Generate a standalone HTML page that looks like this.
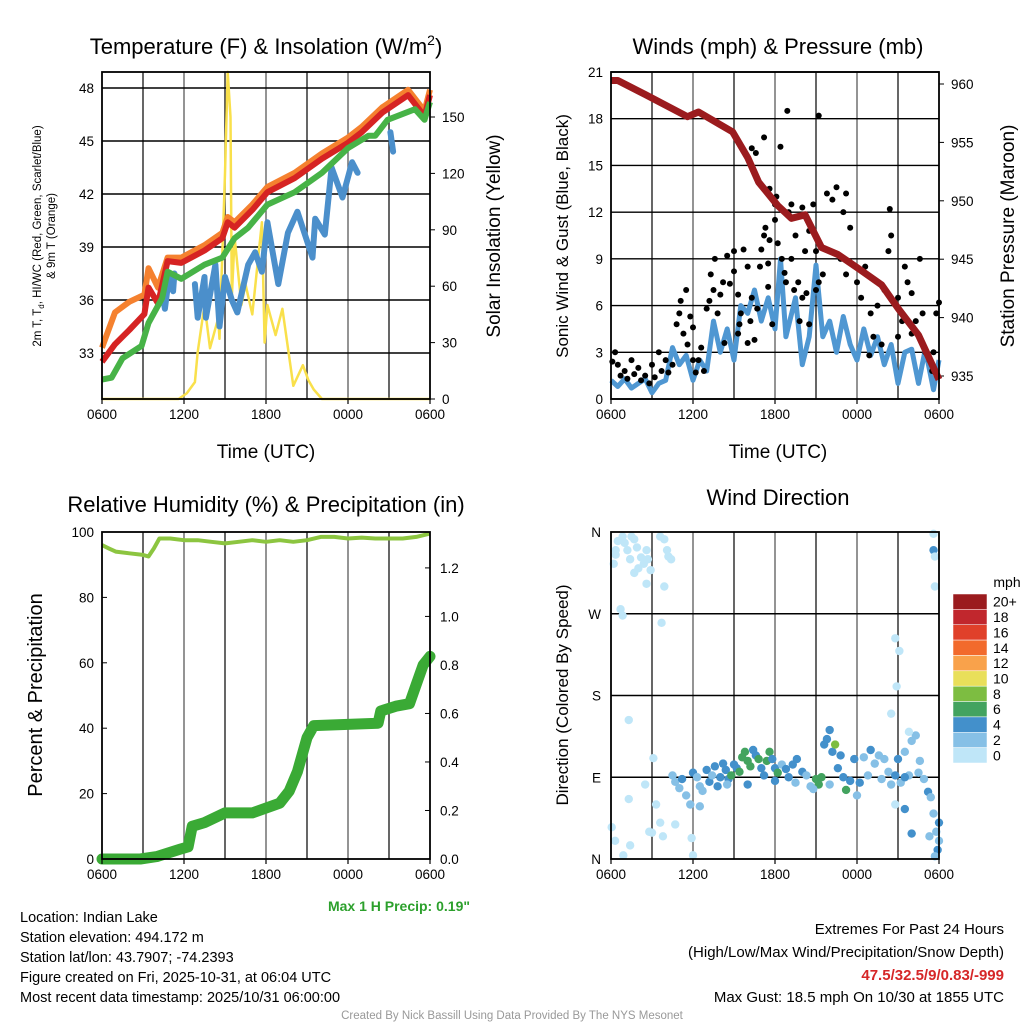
<!DOCTYPE html>
<html><head><meta charset="utf-8">
<style>
body{margin:0;background:#fff;}
svg{display:block;font-family:"Liberation Sans",sans-serif;}
</style></head>
<body>
<svg id="c" width="1024" height="1024" viewBox="0 0 1024 1024" xmlns="http://www.w3.org/2000/svg">
<g id="static">
<text x="266" y="54" font-size="22" text-anchor="middle">Temperature (F) &amp; Insolation (W/m<tspan font-size="14" dy="-9">2</tspan><tspan dy="9">)</tspan></text>
<text x="778" y="54" font-size="22" text-anchor="middle">Winds (mph) &amp; Pressure (mb)</text>
<text x="266" y="512" font-size="22" text-anchor="middle">Relative Humidity (%) &amp; Precipitation (in)</text>
<text x="778" y="505" font-size="22" text-anchor="middle">Wind Direction</text>
<text x="266" y="458" font-size="19" text-anchor="middle">Time (UTC)</text>
<text x="778" y="458" font-size="19" text-anchor="middle">Time (UTC)</text>
<text transform="translate(41,236) rotate(-90)" font-size="11.5" text-anchor="middle">2m T, T<tspan font-size="8" dy="3">d</tspan><tspan dy="-3">, HI/WC (Red, Green, Scarlet/Blue)</tspan></text>
<text transform="translate(55,236) rotate(-90)" font-size="11.5" text-anchor="middle">&amp; 9m T (Orange)</text>
<text transform="translate(500,236) rotate(-90)" font-size="19" text-anchor="middle">Solar Insolation (Yellow)</text>
<text transform="translate(568,236) rotate(-90)" font-size="17" text-anchor="middle">Sonic Wind &amp; Gust (Blue, Black)</text>
<text transform="translate(1014,236) rotate(-90)" font-size="19" text-anchor="middle">Station Pressure (Maroon)</text>
<text transform="translate(42,695) rotate(-90)" font-size="20" text-anchor="middle">Percent &amp; Precipitation</text>
<text transform="translate(568,695) rotate(-90)" font-size="17" text-anchor="middle">Direction (Colored By Speed)</text>
<text x="470" y="911" font-size="14" font-weight="bold" fill="#2ca02c" text-anchor="end">Max 1 H Precip: 0.19"</text>
<g font-size="14.5">
<text x="20" y="922">Location: Indian Lake</text>
<text x="20" y="942">Station elevation: 494.172 m</text>
<text x="20" y="962">Station lat/lon: 43.7907; -74.2393</text>
<text x="20" y="982">Figure created on Fri, 2025-10-31, at 06:04 UTC</text>
<text x="20" y="1002">Most recent data timestamp: 2025/10/31 06:00:00</text>
</g>
<g font-size="15" text-anchor="end">
<text x="1004" y="934">Extremes For Past 24 Hours</text>
<text x="1004" y="957">(High/Low/Max Wind/Precipitation/Snow Depth)</text>
<text x="1004" y="980" font-weight="bold" fill="#d62728">47.5/32.5/9/0.83/-999</text>
<text x="1004" y="1002">Max Gust: 18.5 mph On 10/30 at 1855 UTC</text>
</g>
<text x="512" y="1019" font-size="11.5" fill="#999" text-anchor="middle">Created By Nick Bassill Using Data Provided By The NYS Mesonet</text>
<text x="1007" y="587" font-size="14" text-anchor="middle">mph</text>
</g>
</svg>
<script>
// ---------- data ----------
var hourTicks = ["0600","1200","1800","0000","0600"];
var tempHours = [0,0.95,2,3.1,3.4,4.1,4.8,5.8,7.5,8.8,9.2,9.7,11,12.1,14.1,16.1,18,19,20.5,22.4,23.6,24];
var tempRed   = [32.5,33.5,34.3,35.2,36.7,35.8,38.2,38.1,38.8,39.5,40.4,40.1,41.1,42.1,42.9,44,44.9,45.5,46.6,47.6,46.4,47.6];
var tempOrange= [33.3,35.3,35.9,36.3,37.8,36.7,38.4,38.4,39.1,39.8,40.7,40.4,41.4,42.4,43.2,44.3,45.2,45.8,46.9,47.9,46.7,47.9];
var greenHours= [0,0.7,1.5,2.9,3.4,4.4,4.8,5.8,7.5,8.8,9.7,10.7,12.1,14.1,16.1,18,19.5,20,20.9,22.9,23.6,24];
var tempGreen = [31.5,31.6,32.7,33.4,34.7,36.1,37.6,37.2,38,38.4,39.5,40.1,41.4,42.1,43.2,44.6,45.3,45.3,46.2,46.8,46.2,47.2];
var hiHours = [4.4,4.6,4.9,5.2,5.3,null,6.8,7,7.5,7.6,8.3,8.6,9,9.5,9.9,10.7,11.2,11.7,12.1,12.9,13.6,14.3,15.4,15.6,16.3,16.8,17.6,18.3,18.7,null,21.1,21.3];
var hiVals  = [36.5,35.5,37.3,36.5,37.5,null,36.9,35,37.3,35,38,34.5,37.3,36,35.3,38,38.7,37.6,40.4,36.9,39.8,41,38.4,40.6,39.7,43.5,41.8,43.8,43.2,null,45.5,44.4];
var solarHours = [0,5.6,6.2,6.8,7,7.5,7.9,8.5,8.6,9,9.2,9.4,9.5,9.7,10.2,10.5,11,11.7,11.9,12.1,12.7,13.2,14,14.7,15.1,15.5,16.1,24];
var solarVals  = [0,0,3,9,25,50,27,43,32,120,174,150,54,86,50,61,45,94,30,50,34,48,7,18,10,5,0,0];
var windHours = [0,0.5,1,1.5,2,2.5,3,3.5,4,4.5,5,5.5,6,6.5,7,7.5,8,8.5,9,9.5,10,10.5,11,11.5,12,12.4,12.8,13.5,14,14.5,15,15.5,16,16.5,17,17.5,18,18.5,19,19.5,20,20.5,21,21.5,22,22.5,23,23.6,24];
var windVals  = [1.2,0.8,1.3,0.7,1,1.3,0.4,1,1.2,3.3,2.2,2.8,1.2,2.5,1.8,5,3,4.5,2.5,6,5.5,7,5,6.5,4.5,9,4,6.5,2.2,4,8.6,4,5,3,5.3,3.5,2.5,4.5,2.8,4,2.2,3.5,1,3,3.2,1,3.2,0.6,2.5];
var presHours = [0,0.5,2.5,5.6,6.4,8.9,10,10.8,12.2,13.2,14.2,15.4,16.6,18.1,19.8,21,22.5,24];
var presVals  = [960.3,960.3,959.1,957.2,957.6,955.9,953.7,951.6,949.6,948.5,948.8,946,945.4,944.2,942.8,940.8,938.5,934.7];
var gustHours = [0.1,0.3,0.5,0.7,1,1.2,1.5,1.7,2,2.2,2.5,2.8,3,3.2,3.5,3.7,4,4.2,4.5,4.8,5,5.1,5.3,5.5,5.6,5.8,6,6,6.2,6.4,6.6,6.8,7,7.2,7.3,7.5,7.6,7.8,8,8.2,8.3,8.5,8.7,9,9,9.3,9.5,9.7,10,10,10.3,10.5,10.7,11,11.2,11.3,11.5,11.6,12,12,12.2,12.5,12.7,13,13.2,13.5,13.7,14,14,14.2,14.5,15,10.3,10.6,11.2,12.4,12.9,15.2,11.6,12.1,13.2,14.8,15.8,16.5,17.2,17,16.2,17.5,16,15.5,16.8,17.2,18,18.3,18.6,19,19.2,19.5,20,20.3,20.4,20.5,21,21.3,21.5,21.7,22,22.3,22.6,22.8,23,23.3,23.6,23.8,24,21,19.8,18.9,22,23.5,14.5,13.4,14.3,15.2,15,13.8,12.8,11.5,11.8,10.9,9.3,9.4,10.2];
var gustVals  = [2.4,3,2.2,1.5,1.8,1.3,2.5,1.6,2,1.2,1.5,1,2.2,1.4,3,1.8,2.5,1.7,2.2,4.8,5.5,6.3,4.2,7,3.5,5.3,2.5,4.6,1.7,2.5,3.3,1.8,5.8,6.3,8,7,9,5.5,6.7,7.5,3.6,9.2,7.4,8.2,9.5,6.7,5.5,9.6,8.5,3.6,6.5,3.8,5.8,9.6,10.5,11,8.7,10.2,11.5,12.5,10,9,8.1,12,9,10.5,7.5,12.3,6.5,9.5,10.8,7,16.1,15.8,16.8,16.2,18.5,18.2,13.5,13,12.5,12.5,13.2,13.6,13.2,12,12.8,11,9.5,8,9,8,7.5,6.5,8.5,5.5,4,6,7,9.5,12.2,10.5,6.5,5,8.5,7.5,6.8,5,9,5.5,3,2.5,3,5.5,6.2,4,3.5,2.8,4.2,1.8,4.8,7,6.8,7.5,9.5,5,7.5,7.2,4.8,8.5,4.2,4.8,5];
var rhHours = [0,0.5,1,2,3,3.4,3.8,4.2,5,6,7,8,9,10,11,12,13,14,15,16,17,18,19,20,21,22,23,24];
var rhVals  = [96,95,94,93.5,93,92.5,95,98,98,97.5,97.5,97,96.5,97,97.5,97,97.5,97,97.5,98.5,98.5,98,98.3,98,98,98,98.5,99.5];
var precipHours = [0,2.8,4,5.7,6.3,6.6,7.5,9,11,13,13.7,14.3,15,15.5,20.2,20.4,21.5,22.5,23,23.5,24];
var precipVals  = [0,0,0.01,0.04,0.05,0.135,0.15,0.19,0.19,0.23,0.28,0.36,0.5,0.55,0.56,0.61,0.63,0.64,0.72,0.8,0.835];
var dirHours = [0.34,0.5,0.85,1,1.2,1.5,1.7,1.9,2.2,2.4,2.6,2.7,2.9,2,1.7,1.4,3.6,3.9,4.1,4.2,4.4,0.2,0.34,3.9,2.6,0.7,0.85,3.7,0.05,1.4,1.3,2.5,3,3.3,3.6,3.8,4.7,5.9,6,3.1,1.3,0.9,0.3,2.8,4.5,4.7,5,5.2,5.5,5.8,6,6.3,6.5,6.7,7,7.2,7.4,7.6,7.8,8,8.2,8.4,8.6,8.8,9,9.2,9.4,9.6,9.8,10,10.2,10.4,10.6,10.8,11,11.2,11.4,11.6,11.8,12,12.2,12.5,12.8,13,13.3,13.6,14,14.3,14.6,15,15.2,15.4,15.6,15.8,16,16.2,16.4,16.6,16.8,17,17.2,17.5,17.8,18.2,18.5,18.8,19,19.3,19.6,20,20.3,20.5,20.8,21,21.2,21.5,21.8,22,22.3,22.6,22.9,23.2,23.4,23.6,23.8,24,23.9,23.7,24,23.3,21.5,19.8,18,16,14.8,13.5,12,10,8.5,6.5,20.5,20.9,21.8,22.5,20.8,21.5,22,23.6,23.6,23.7,23.7,20.8,21.1];
var dirVals  = [335,350,355,348,340,355,352,343,332,325,340,330,318,320,315,330,355,352,340,333,330,325,340,300,303,275,268,260,35,15,66,82,29,60,40,25,38,23,4,111,153,4,20,30,92,85,78,88,70,60,95,90,80,75,98,85,92,102,80,90,105,98,88,92,104,100,96,112,118,108,102,120,114,110,100,92,108,118,110,100,95,104,99,90,104,110,96,92,80,88,82,90,126,132,142,118,126,100,114,90,76,86,110,84,112,92,120,105,114,110,96,82,92,110,84,118,92,130,136,108,88,74,68,50,30,20,10,3,40,25,90,88,70,82,77,84,86,82,82,58,160,190,140,95,60,55,28,358,340,333,300,243,229];
var dirSpeeds= [1,1,1,1,1,1,1,1,1,1,1,1,1,1,1,1,1,1,1,1,1,1,1,1,1,1,1,1,1,1,1,1,1,1,1,1,1,1,1,1,1,1,1,1,3,3,3,4,3,2,4,2,2,3,4,4,3,4,5,4,5,4,4,6,5,4,6,6,7,6,6,4,5,6,4,5,7,6,4,5,6,3,4,5,4,4,4,3,2,6,6,7,4,4,5,5,8,4,4,4,6,4,4,4,3,3,4,2,3,3,2,3,4,4,3,3,3,3,2,3,3,4,2,3,2,3,4,2,4,2,4,3,3,2,2,3,4,4,2,2,1,1,1,2,1,4,4,1,5,1,1,1,1];
var cbLabels = ["20+","18","16","14","12","10","8","6","4","2","0"];
var cbColors = ["#9b1b1e","#c1272d","#e0402a","#f26a2c","#f9a24b","#e9df5a","#7dbd41","#43a35f","#4390cb","#86c0e6","#bfe6f8"];
var tempTicks = [33,36,39,42,45,48];
var solarTicks = [0,30,60,90,120,150];
var windTicks = [0,3,6,9,12,15,18,21];
var presTicks = [935,940,945,950,955,960];
var rhTicks = [0,20,40,60,80,100];
var precipTicks = [0,0.2,0.4,0.6,0.8,1.0,1.2];
var dirTicks = ["N","E","S","W","N"];

// ---------- helpers ----------
var NS="http://www.w3.org/2000/svg", svg=document.getElementById('c');
function mk(tag,attrs,parent){var e=document.createElementNS(NS,tag);for(var k in attrs)e.setAttribute(k,attrs[k]);(parent||svg).appendChild(e);return e;}
function lin(d0,d1,r0,r1){return function(v){return r0+(v-d0)*(r1-r0)/(d1-d0);};}
function pathFrom(xs,ys,fx,fy){var d="",pen=false;for(var i=0;i<xs.length;i++){if(xs[i]===null||ys[i]===null){pen=false;continue;}d+=(pen?"L":"M")+fx(xs[i]).toFixed(1)+","+fy(ys[i]).toFixed(1);pen=true;}return d;}
function frame(x0,y0,x1,y1,name){
  var g=mk('g',{});
  
  
  for(var h=3;h<24;h+=3){var X=x0+h*(x1-x0)/24;var l=mk('line',{x1:X,y1:y0,x2:X,y2:y1,stroke:'#000','stroke-width':1.4,'stroke-opacity':h%6?0.85:0.6},g);}
  return g;
}
function hgrid(g,x0,x1,Y){var l=mk('line',{x1:x0,y1:Y,x2:x1,y2:Y,stroke:'#000','stroke-width':1.4},g);}
function border(x0,y0,x1,y1){var r=mk('rect',{x:x0,y:y0,width:x1-x0,height:y1-y0,fill:'none',stroke:'#000','stroke-width':1.8});}
function xticks(x0,x1,y1){for(var i=0;i<hourTicks.length;i++){var X=x0+i*(x1-x0)/4;var t=mk('text',{x:X,y:y1+20,'font-size':13.5,'text-anchor':'middle'});t.textContent=hourTicks[i];mk('line',{x1:X,y1:y1,x2:X,y2:y1+5,stroke:'#000','stroke-width':1.2});}}
function ylabel(X,Y,txt,anchor){var t=mk('text',{x:X,y:Y+5,'font-size':13.5,'text-anchor':anchor});t.textContent=txt;}
function xs(x0,x1){return lin(0,24,x0,x1);}

// ---------- panel 1 ----------
(function(){
 var x0=102,x1=430,y0=72,y1=399,fx=xs(x0,x1),fy=lin(33,48,353,88),fs=lin(0,150,399,117);
 var g=frame(x0,y0,x1,y1,'temperature-plot');
 tempTicks.forEach(function(v){hgrid(g,x0,x1,fy(v));ylabel(x0-8,fy(v),String(v),'end');});
 solarTicks.forEach(function(v){ylabel(x1+12,fs(v),String(v),'start');mk('line',{x1:x1,y1:fs(v),x2:x1+5,y2:fs(v),stroke:'#000'});});
 var p;
 p=mk('path',{d:pathFrom(solarHours,solarVals,fx,fs),fill:'none',stroke:'#f9e04b','stroke-width':2.5,'stroke-linejoin':'round'});
 p=mk('path',{d:pathFrom(hiHours,hiVals,fx,fy),fill:'none',stroke:'#4b8fcb','stroke-width':6,'stroke-linejoin':'round','stroke-linecap':'round'});
 p=mk('path',{d:pathFrom(tempHours,tempOrange,fx,fy),fill:'none',stroke:'#f5812f','stroke-width':6,'stroke-linejoin':'round'});
 p=mk('path',{d:pathFrom(tempHours,tempRed,fx,fy),fill:'none',stroke:'#d62323','stroke-width':6,'stroke-linejoin':'round'});
 p=mk('path',{d:pathFrom(greenHours,tempGreen,fx,fy),fill:'none',stroke:'#47b347','stroke-width':6,'stroke-linejoin':'round'});
 border(x0,y0,x1,y1);xticks(x0,x1,y1);
})();

// ---------- panel 2 ----------
(function(){
 var x0=611,x1=939,y0=72,y1=399,fx=xs(x0,x1),fy=lin(0,21,399,72),fp=lin(935,960,376,84);
 var g=frame(x0,y0,x1,y1,'winds-plot');
 windTicks.forEach(function(v){hgrid(g,x0,x1,fy(v));ylabel(x0-8,fy(v),String(v),'end');});
 presTicks.forEach(function(v){ylabel(x1+12,fp(v),String(v),'start');mk('line',{x1:x1,y1:fp(v),x2:x1+5,y2:fp(v),stroke:'#000'});});
 var p=mk('path',{d:pathFrom(windHours,windVals,fx,fy),fill:'none',stroke:'#4f97d2','stroke-width':5,'stroke-linejoin':'round'});
 for(var i=0;i<gustHours.length;i++){var c=mk('circle',{cx:fx(gustHours[i]),cy:fy(gustVals[i]),r:3,fill:'#000'});}
 p=mk('path',{d:pathFrom(presHours,presVals,fx,fp),fill:'none',stroke:'#9b1b1e','stroke-width':7,'stroke-linejoin':'round'});
 border(x0,y0,x1,y1);xticks(x0,x1,y1);
})();

// ---------- panel 3 ----------
(function(){
 var x0=102,x1=430,y0=532,y1=859,fx=xs(x0,x1),fy=lin(0,100,859,532),fi=lin(0,1.348,859,532);
 frame(x0,y0,x1,y1,'humidity-plot');
 rhTicks.forEach(function(v){ylabel(x0-8,fy(v),String(v),'end');mk('line',{x1:x0,y1:fy(v),x2:x0+5,y2:fy(v),stroke:'#000'});});
 precipTicks.forEach(function(v){ylabel(x1+10,fi(v),v.toFixed(1),'start');mk('line',{x1:x1-5,y1:fi(v),x2:x1,y2:fi(v),stroke:'#000'});});
 var p=mk('path',{d:pathFrom(precipHours,precipVals,fx,fi),fill:'none',stroke:'#3aaa35','stroke-width':11,'stroke-linejoin':'round','stroke-linecap':'round'});
 p=mk('path',{d:pathFrom(rhHours,rhVals,fx,fy),fill:'none',stroke:'#8cc540','stroke-width':4,'stroke-linejoin':'round'});
 border(x0,y0,x1,y1);xticks(x0,x1,y1);
})();

// ---------- panel 4 ----------
(function(){
 var x0=611,x1=939,y0=532,y1=859,fx=xs(x0,x1),fy=lin(0,360,859,532);
 var g=frame(x0,y0,x1,y1,'wind-direction-plot');
 dirTicks.forEach(function(v,i){var Y=fy(i*90);if(i>0&&i<4)hgrid(g,x0,x1,Y);ylabel(x0-10,Y,v,'end');});
 function col(s){var b=Math.min(10,Math.floor(s/2));return cbColors[10-b];}
 for(var i=0;i<dirHours.length;i++){var c=mk('circle',{cx:fx(dirHours[i]),cy:fy(dirVals[i]),r:4.2,fill:col(dirSpeeds[i])});}
 border(x0,y0,x1,y1);xticks(x0,x1,y1);
 var bh=(763-594)/cbLabels.length;
 for(var j=0;j<cbLabels.length;j++){
  var r=mk('rect',{x:953,y:594+j*bh,width:34,height:bh,fill:cbColors[j],stroke:'#fff','stroke-width':0.5});
  
  
  var t=mk('text',{x:993,y:594+j*bh+bh/2+5,'font-size':14});t.textContent=cbLabels[j];
  
  
 }
})();
</script>
</body></html>
